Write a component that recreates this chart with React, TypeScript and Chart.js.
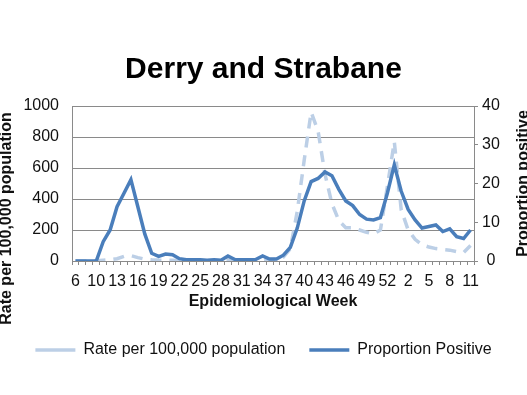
import React, { useEffect, useRef } from 'react';
import { Chart, registerables } from 'chart.js';

Chart.register(...registerables);

const FONT = "'Liberation Sans', Arial, Helvetica, sans-serif";

const chartTitle = 'Derry and Strabane';
const xAxisTitle = 'Epidemiological Week';
const leftAxisTitle = 'Rate per 100,000 population';
const rightAxisTitle = 'Proportion positive';
const rateLabel = 'Rate per 100,000 population';
const proportionLabel = 'Proportion Positive';

const weeks = [
  '6', '8', '9', '10', '11', '12', '13', '14', '15', '16', '17', '18', '19', '20', '21',
  '22', '23', '24', '25', '26', '27', '28', '29', '30', '31', '32', '33', '34', '35', '36',
  '37', '38', '39', '40', '41', '42', '43', '44', '45', '46', '47', '48', '49', '50', '51',
  '52', '53', '1', '2', '3', '4', '5', '6', '7', '8', '9', '10', '11',
];

const ratePer100k = [
  0, 0, 0, 2, 5, 8, 15, 30, 35, 22, 12, 8, 6, 5, 5,
  4, 3, 3, 3, 2, 3, 3, 10, 5, 4, 5, 6, 12, 8, 10,
  25, 80, 320, 650, 960, 840, 560, 370, 260, 215, 215, 200, 185, 175, 200,
  480, 770, 330, 200, 140, 105, 90, 80, 75, 70, 60, 55, 100,
];

const proportionPositive = [
  0, 0, 0, 0, 5, 8, 14, 17.5, 21, 14, 7, 2, 1.2, 1.8, 1.6,
  0.6, 0.3, 0.3, 0.3, 0.2, 0.3, 0.2, 1.3, 0.4, 0.3, 0.3, 0.4, 1.3, 0.5, 0.5,
  1.5, 3.5, 8.5, 15.5, 20.5, 21.3, 23, 22, 18.5, 15.5, 14.3, 12, 10.8, 10.6, 11.2,
  17.5, 24.8, 18, 13.3, 10.6, 8.5, 8.9, 9.3, 7.6, 8.3, 6.3, 5.8, 8,
];

const GRID = '#8a8a8a';
const TEXT = '#111111';

const axisTitlesPlugin = {
  id: 'axisTitles',
  afterDraw(chart: any) {
    const ctx = chart.ctx;
    const area = chart.chartArea;
    ctx.save();
    ctx.font = `bold 16px ${FONT}`;
    ctx.fillStyle = TEXT;
    ctx.textAlign = 'center';
    ctx.textBaseline = 'middle';
    const draw = (text: string, x: number, y: number) => {
      ctx.save();
      ctx.translate(x, y);
      ctx.rotate(-Math.PI / 2);
      ctx.fillText(text, 0, 0);
      ctx.restore();
    };
    draw(leftAxisTitle, 7, (area.top + area.bottom) / 2 + 35);
    draw(rightAxisTitle, 524, (area.top + area.bottom) / 2);
    ctx.restore();
  },
};

export default function App() {
  const ref = useRef<HTMLCanvasElement | null>(null);

  useEffect(() => {
    if (!ref.current) return;
    const chart = new Chart(ref.current, {
      type: 'line',
      data: {
        labels: weeks,
        datasets: [
          {
            label: proportionLabel,
            data: proportionPositive,
            yAxisID: 'y1',
            borderColor: '#4a7ebb',
            backgroundColor: '#4a7ebb',
            borderWidth: 3.5,
            pointRadius: 0,
            tension: 0,
            fill: false,
          },
          {
            label: rateLabel,
            data: ratePer100k,
            yAxisID: 'y',
            borderColor: '#bccfe6',
            backgroundColor: '#bccfe6',
            borderWidth: 3.5,
            borderDash: [11, 8],
            pointRadius: 0,
            tension: 0,
            fill: false,
          },
        ],
      },
      options: {
        animation: false,
        responsive: false,
        devicePixelRatio: 1,
        layout: { padding: { left: 0, right: 0, top: 0, bottom: 27 } },
        plugins: {
          title: {
            display: true,
            text: chartTitle,
            color: '#000',
            font: { family: FONT, size: 30, weight: 'bold' },
            padding: { top: 52, bottom: 18 },
          },
          legend: {
            position: 'bottom',
            reverse: true,
            labels: {
              usePointStyle: true,
              pointStyle: 'line',
              pointStyleWidth: 40,
              color: TEXT,
              font: { family: FONT, size: 16 },
              padding: 24,
            },
          },
          tooltip: { enabled: false },
        },
        scales: {
          x: {
            type: 'category',
            offset: true,
            grid: {
              offset: true,
              drawOnChartArea: false,
              drawTicks: true,
              tickLength: 4,
              color: GRID,
            },
            border: { display: true, color: GRID },
            ticks: {
              autoSkip: false,
              maxRotation: 0,
              minRotation: 0,
              padding: 7,
              color: TEXT,
              font: { family: FONT, size: 16 },
              callback: function (this: any, value: any, index: number) {
                return index % 3 === 0 ? this.getLabelForValue(value) : '';
              },
            },
            title: {
              display: true,
              text: xAxisTitle,
              color: TEXT,
              font: { family: FONT, size: 16, weight: 'bold' },
              padding: { top: 0, bottom: 7 },
            },
            afterFit: (s: any) => {
              s.height = 57;
            },
          },
          y: {
            position: 'left',
            min: 0,
            max: 1000,
            ticks: {
              stepSize: 200,
              padding: 13,
              color: TEXT,
              font: { family: FONT, size: 16 },
              callback: (v: any) => String(v),
            },
            grid: { color: GRID, drawTicks: false },
            border: { display: true, color: GRID },
            afterFit: (s: any) => {
              s.width = 72;
            },
          },
          y1: {
            position: 'right',
            min: 0,
            max: 40,
            ticks: {
              stepSize: 10,
              padding: 4,
              crossAlign: 'center',
              color: TEXT,
              font: { family: FONT, size: 16 },
              callback: (v: any) => String(v),
            },
            grid: { drawOnChartArea: false, tickLength: 4, color: GRID },
            border: { display: true, color: GRID },
            afterFit: (s: any) => {
              s.width = 53;
            },
          },
        },
      },
      plugins: [axisTitlesPlugin],
    } as any);
    return () => chart.destroy();
  }, []);

  return (
    <div style={{ position: 'absolute', left: 0, top: 0, width: 527, height: 395, background: '#fff' }}>
      <canvas ref={ref} width={527} height={395} />
    </div>
  );
}
